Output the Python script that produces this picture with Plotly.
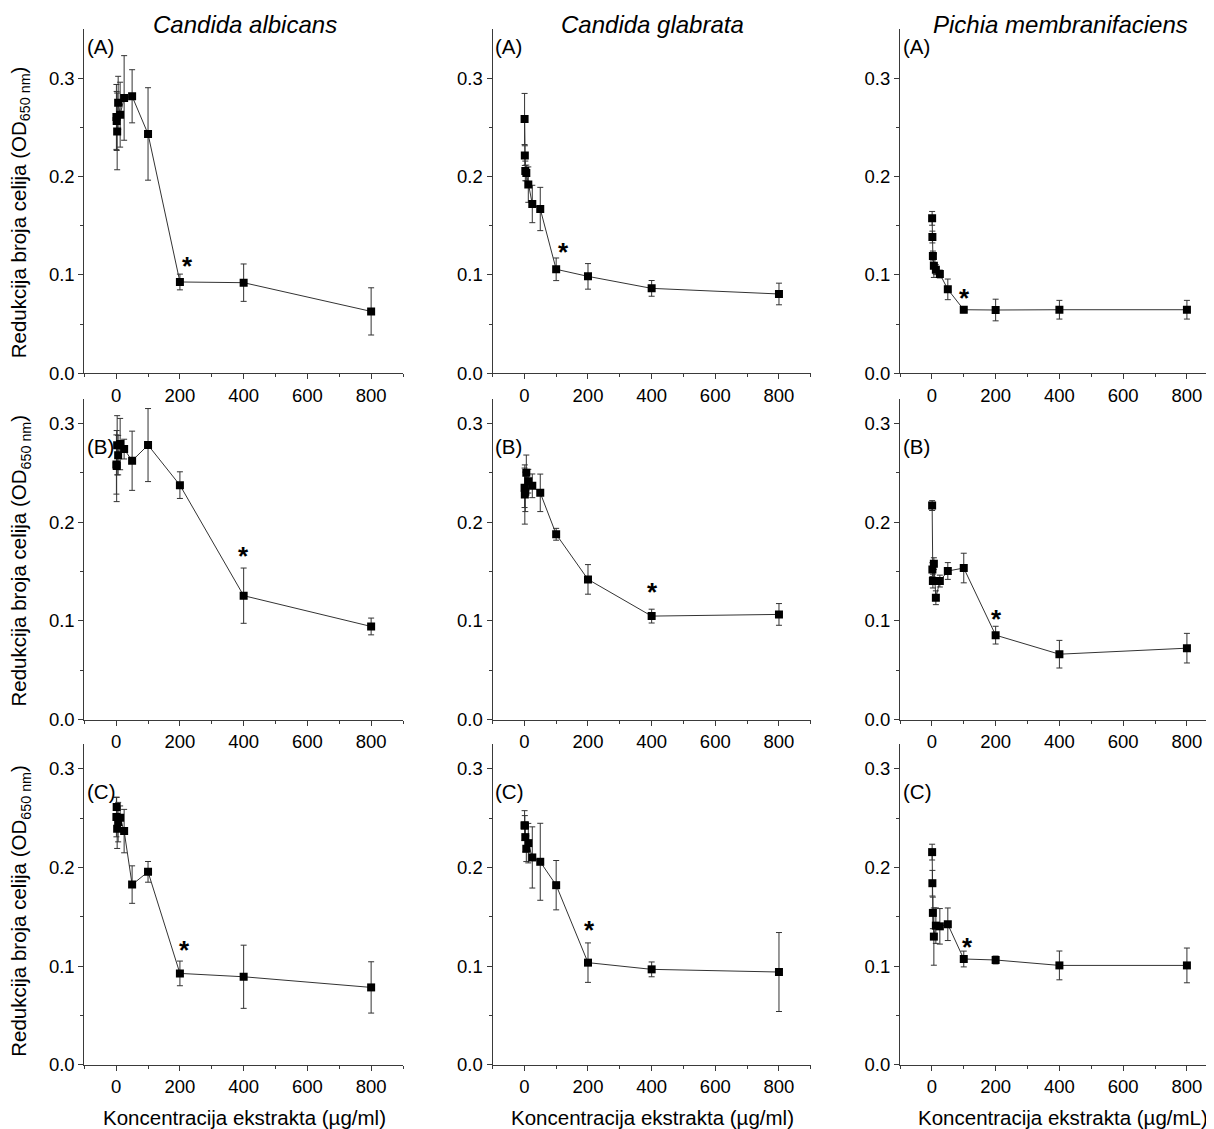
import plotly.graph_objects as go

# page has an 8px body margin; the captured picture is slightly compressed
# vertically, so target screen rows are divided by VK before placing them
OFF = 8
VK = 0.9904
W, H = 1214 - OFF, 1132

# ---------------- data ----------------
conc = [0.78, 1.56, 3.125, 6.25, 12.5, 25, 50, 100, 200, 400, 800]

species = ["Candida albicans", "Candida glabrata", "Pichia membranifaciens"]
panel_labels = ["(A)", "(B)", "(C)"]
x_titles = ["Koncentracija ekstrakta (µg/ml)",
            "Koncentracija ekstrakta (µg/ml)",
            "Koncentracija ekstrakta (µg/mL)"]
y_title = "Redukcija broja celija (OD<sub>650 nm</sub>)"
x_ticks = [0, 200, 400, 600, 800]
y_ticks = [0.0, 0.1, 0.2, 0.3]

# Row A
ca_A = [0.2607, 0.2566, 0.2460, 0.2750, 0.2630, 0.2800, 0.2817, 0.2434, 0.0929, 0.0922, 0.0630]
ca_A_err = [0.033, 0.030, 0.039, 0.027, 0.033, 0.043, 0.027, 0.047, 0.008, 0.019, 0.024]
cg_A = [0.2586, 0.2214, 0.2058, 0.2037, 0.1919, 0.1722, 0.1671, 0.1058, 0.0986, 0.0864, 0.0807]
cg_A_err = [0.026, 0.010, 0.010, 0.008, 0.018, 0.019, 0.022, 0.0115, 0.013, 0.008, 0.011]
pm_A = [0.1576, 0.1386, 0.1193, 0.1095, 0.1054, 0.1010, 0.0854, 0.0647, 0.0644, 0.0647, 0.0647]
pm_A_err = [0.007, 0.006, 0.005, 0.012, 0.005, 0.004, 0.0105, 0.003, 0.011, 0.0095, 0.0095]

# Row B
ca_B = [0.2585, 0.2569, 0.2780, 0.2680, 0.2792, 0.2741, 0.2623, 0.2782, 0.2376, 0.1256, 0.0944]
ca_B_err = [0.030, 0.036, 0.030, 0.020, 0.026, 0.010, 0.030, 0.037, 0.0135, 0.028, 0.0085]
cg_B = [0.2349, 0.2281, 0.2308, 0.2501, 0.2416, 0.2369, 0.2298, 0.1878, 0.1421, 0.1049, 0.1066]
cg_B_err = [0.020, 0.030, 0.020, 0.018, 0.012, 0.012, 0.019, 0.006, 0.015, 0.007, 0.011]
pm_B = [0.2169, 0.1520, 0.1404, 0.1580, 0.1235, 0.1404, 0.1506, 0.1536, 0.0856, 0.0663, 0.0724]
pm_B_err = [0.005, 0.007, 0.007, 0.006, 0.007, 0.006, 0.0085, 0.015, 0.009, 0.014, 0.015]

# Row C
ca_C = [0.2511, 0.2612, 0.2393, 0.2460, 0.2504, 0.2369, 0.1827, 0.1956, 0.0927, 0.0893, 0.0785]
ca_C_err = [0.020, 0.010, 0.020, 0.020, 0.012, 0.022, 0.019, 0.0105, 0.0125, 0.032, 0.026]
cg_C = [0.2426, 0.2426, 0.2308, 0.2190, 0.2247, 0.2102, 0.2058, 0.1821, 0.1036, 0.0968, 0.0941]
cg_C_err = [0.015, 0.010, 0.015, 0.013, 0.020, 0.031, 0.039, 0.025, 0.020, 0.0075, 0.040]
pm_C = [0.2156, 0.1841, 0.1540, 0.1300, 0.1411, 0.1404, 0.1425, 0.1073, 0.1063, 0.1008, 0.1008]
pm_C_err = [0.008, 0.013, 0.016, 0.029, 0.018, 0.018, 0.0165, 0.008, 0.004, 0.0146, 0.0176]

# significance stars (x, y in data units) per panel, row-major
star_x = [224, 122, 103, 400, 403, 203, 214, 206, 111]
star_y = [0.1166, 0.130, 0.0834, 0.1726, 0.136, 0.109, 0.124, 0.1435, 0.1266]

means = [ca_A, cg_A, pm_A, ca_B, cg_B, pm_B, ca_C, cg_C, pm_C]
errs = [ca_A_err, cg_A_err, pm_A_err, ca_B_err, cg_B_err, pm_B_err, ca_C_err, cg_C_err, pm_C_err]

# ---------------- layout geometry (screen pixels) ----------------
col_left = [84.3, 492.5, 900.0]
col_scale = [0.3187, 0.3183, 0.3188]      # px per concentration unit
col_right_max = [403.0, 810.8, 1212.0]
row_px = [(29.0, 373.0), (398.5, 719.0), (743.5, 1064.0)]  # top, bottom
row_yrange = [(0, 0.35), (0, 0.325), (0, 0.325)]
col_title_cx = [244.5, 652.0, 1060.0]
x_title_cx = [244.0, 653.0, 1063.0]
y_title_cy = [212.0, 560.0, 910.0]


def px(v):
    return (v - OFF) / W


def py(v):
    return 1 - (v / VK - OFF) / H


FONT = "Liberation Sans, Arial, sans-serif"
AX = "#3a3a3a"

fig = go.Figure()
layout = dict(
    width=W, height=H,
    margin=dict(l=0, r=0, t=0, b=0),
    paper_bgcolor="white", plot_bgcolor="white",
    showlegend=False,
    font=dict(family=FONT, size=18, color="black"),
)
annotations = []

for r in range(3):
    for c in range(3):
        k = r * 3 + c + 1
        xa = "x" if k == 1 else f"x{k}"
        ya = "y" if k == 1 else f"y{k}"
        xkey = "xaxis" if k == 1 else f"xaxis{k}"
        ykey = "yaxis" if k == 1 else f"yaxis{k}"
        x0 = col_left[c]
        x1 = min(col_right_max[c], x0 + 1000 * col_scale[c])
        xmax = -100 + (x1 - x0) / col_scale[c]
        top, bot = row_px[r]
        layout[xkey] = dict(
            domain=[px(x0), px(x1)], anchor=ya, range=[-100, xmax],
            tickvals=x_ticks, ticks="outside", ticklen=5, tickwidth=1, tickcolor=AX,
            minor=dict(tickvals=[-100, 100, 300, 500, 700, 900], ticks="outside",
                       ticklen=3, tickwidth=1, tickcolor=AX),
            showline=True, linecolor=AX, linewidth=1, showgrid=False, zeroline=False,
            tickfont=dict(family=FONT, size=18.5, color="black"), fixedrange=True,
        )
        layout[ykey] = dict(
            domain=[py(bot), py(top)], anchor=xa, range=list(row_yrange[r]),
            tickvals=y_ticks, ticktext=["0.0", "0.1", "0.2", "0.3"],
            ticks="outside", ticklen=5, tickwidth=1, tickcolor=AX,
            minor=dict(tickvals=[0.05, 0.15, 0.25], ticks="outside",
                       ticklen=3, tickwidth=1, tickcolor=AX),
            showline=True, linecolor=AX, linewidth=1, showgrid=False, zeroline=False,
            tickfont=dict(family=FONT, size=18.5, color="black"), fixedrange=True,
        )
        fig.add_trace(go.Scatter(
            x=conc, y=means[k - 1], xaxis=xa, yaxis=ya,
            mode="lines+markers",
            line=dict(color="#333333", width=1),
            marker=dict(symbol="square", size=8, color="black"),
            error_y=dict(type="data", array=errs[k - 1], visible=True,
                         thickness=1, width=3, color="#333333"),
        ))
        # panel label
        annotations.append(dict(
            x=-97, y=row_yrange[r][1] - (0.018 if r == 0 else 0.048),
            xref=xa, yref=ya, text=panel_labels[r], showarrow=False,
            xanchor="left", yanchor="middle",
            font=dict(family=FONT, size=20.5, color="black"),
        ))
        # significance star
        annotations.append(dict(
            x=star_x[k - 1], y=star_y[k - 1], xref=xa, yref=ya, text="<b>*</b>",
            showarrow=False, xanchor="center", yanchor="middle", yshift=-7,
            font=dict(family=FONT, size=26, color="black"),
        ))

# column titles and x titles
for c in range(3):
    annotations.append(dict(
        x=px(col_title_cx[c]), y=py(24),
        xref="paper", yref="paper", text=f"<i>{species[c]}</i>", showarrow=False,
        xanchor="center", yanchor="middle",
        font=dict(family=FONT, size=24, color="black"),
    ))
    annotations.append(dict(
        x=px(x_title_cx[c]), y=py(1117),
        xref="paper", yref="paper", text=x_titles[c], showarrow=False,
        xanchor="center", yanchor="middle",
        font=dict(family=FONT, size=20.5, color="black"),
    ))

# y titles
for r in range(3):
    annotations.append(dict(
        x=px(20), y=py(y_title_cy[r]),
        xref="paper", yref="paper", text=y_title, showarrow=False,
        textangle=-90, xanchor="center", yanchor="middle",
        font=dict(family=FONT, size=20.5, color="black"),
    ))

layout["annotations"] = annotations
fig.update_layout(**layout)
fig.write_html("out.html")
